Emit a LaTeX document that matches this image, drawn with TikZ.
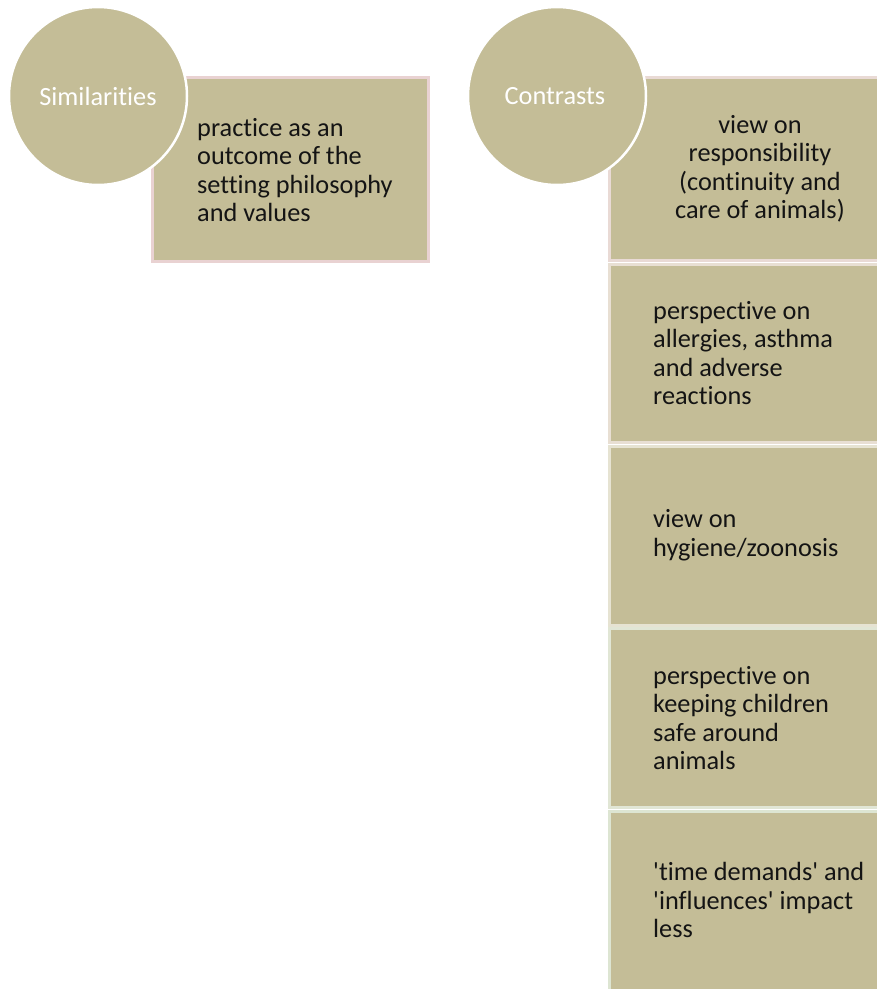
\documentclass[tikz,border=0pt]{standalone}
\usepackage{fontspec}
\newfontfamily\calfont[Ligatures=NoCommon]{Carlito}
\definecolor{tan}{HTML}{C4BD97}
\definecolor{bsim}{HTML}{E9D2D2}
\definecolor{bA}{HTML}{E9DAD5}
\definecolor{bB}{HTML}{E8DFD3}
\definecolor{bC}{HTML}{E6E3D2}
\definecolor{bD}{HTML}{E1E6D5}
\definecolor{bE}{HTML}{DDE5D2}
\begin{document}
\begin{tikzpicture}[x=1pt,y=1pt,
  boxstyle/.style={rectangle, fill=tan, line width=2.8pt, inner sep=0pt, anchor=north west},
  circstyle/.style={circle, fill=tan, draw=white, line width=2.5pt, minimum size=178pt, inner sep=0pt},
  ctext/.style={text=white, font=\calfont\fontsize{26.3}{28.5}\selectfont},
  btext/.style={text=black!92, font=\calfont\fontsize{26.3}{28.5}\selectfont, inner sep=0pt}
]
\useasboundingbox (0,0) rectangle (877,-989);
\clip (0,0) rectangle (877,-989);
% similarities box
\node[boxstyle, draw=bsim, minimum width=276pt, minimum height=184pt] (simbox) at (151.4,-76.4) {};
% contrasts boxes
\node[boxstyle, draw=bA, minimum width=290pt, minimum height=183pt] (c1) at (608.4,-76.4) {};
\node[boxstyle, draw=bB, minimum width=290pt, minimum height=178pt] (c2) at (608.4,-262.8) {};
\node[boxstyle, draw=bC, minimum width=290pt, minimum height=179pt] (c3) at (608.4,-444.8) {};
\node[boxstyle, draw=bD, minimum width=290pt, minimum height=179pt] (c4) at (608.4,-627.3) {};
\node[boxstyle, draw=bE, minimum width=290pt, minimum height=190pt] (c5) at (608.4,-809.8) {};
% circles
\node[circstyle] (simc) at (98,-96) {};
\node[ctext] (simt) at (98,-96) {Similarities};
\node[circstyle] (conc) at (557,-96) {};
\node[ctext] (cont) at (555,-96) {Contrasts};
% texts
\node[btext, anchor=west, align=left] (t0) at (197,-170) {practice as an\\outcome of the\\setting philosophy\\and values};
\node[btext, align=center] (t1) at (760,-169) {view on\\responsibility\\(continuity and\\care of animals)};
\node[btext, anchor=west, align=left] (t2) at (653,-353) {perspective on\\allergies, asthma\\and adverse\\reactions};
\node[btext, anchor=west, align=left] (t3) at (653,-535) {view on\\hygiene/zoonosis};
\node[btext, anchor=west, align=left] (t4) at (653,-718) {perspective on\\keeping children\\safe around\\animals};
\node[btext, anchor=west, align=left] (t5) at (653,-900) {'time demands' and\\'influences' impact\\less};
\end{tikzpicture}
\end{document}
